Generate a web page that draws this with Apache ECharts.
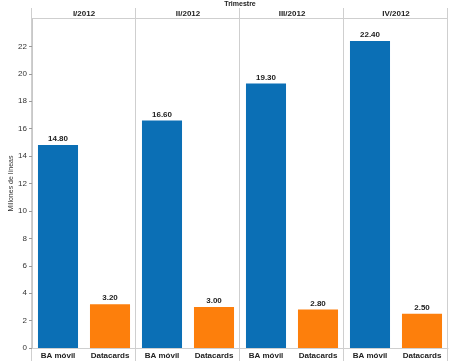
<!DOCTYPE html>
<html><head><meta charset="utf-8">
<script src="https://cdn.jsdelivr.net/npm/echarts@6/dist/echarts.min.js"></script>
<style>html,body{margin:0;padding:0;background:#fff}#c{width:450px;height:361px}</style>
</head><body><div id="c"></div>
<script>
const quarters = ["I/2012", "II/2012", "III/2012", "IV/2012"];
const categories = ["BA móvil", "Datacards"];
const baMovil = [14.8, 16.6, 19.3, 22.4];
const datacards = [3.2, 3.0, 2.8, 2.5];
const yTicks = [0, 2, 4, 6, 8, 10, 12, 14, 16, 18, 20, 22];

const colors = ["#0b6fb5", "#fd7f0c"];
const L = 32, PW = 104, TOP = 19, BOTTOM = 13;
const font = "Liberation Sans, Arial, sans-serif";

const grids = [], xAxes = [], yAxes = [], series = [];
quarters.forEach((q, i) => {
  grids.push({left: L + PW * i, width: PW, top: TOP, bottom: BOTTOM, containLabel: false});
  xAxes.push({type: "category", gridIndex: i, data: categories,
    axisLine: {show: true, lineStyle: {color: "#cfcfcf"}}, axisTick: {show: false},
    axisLabel: {fontSize: 8, fontWeight: "bold", color: "#222", fontFamily: font, margin: 4, interval: 0}});
  yAxes.push({type: "value", gridIndex: i, min: 0, max: 24, interval: 2,
    splitLine: {show: false},
    axisLine: {show: i === 0, lineStyle: {color: "#c8c8c8"}},
    axisTick: {show: i === 0, length: 3, lineStyle: {color: "#999"}},
    axisLabel: {show: i === 0, fontSize: 8, color: "#333", fontFamily: font, margin: 5,
      showMaxLabel: false, formatter: v => yTicks.includes(v) ? String(v) : ""},
    name: i === 0 ? "Millones de líneas" : "", nameLocation: "middle", nameGap: 17,
    nameTextStyle: {fontSize: 7, color: "#333", fontFamily: font}});
  series.push({type: "bar", xAxisIndex: i, yAxisIndex: i, barWidth: "77%",
    data: [{value: baMovil[i], itemStyle: {color: colors[0]}}, {value: datacards[i], itemStyle: {color: colors[1]}}],
    label: {show: true, position: "top", distance: 2, fontSize: 8, fontWeight: "bold", color: "#222", fontFamily: font,
      formatter: p => p.value.toFixed(2)}});
});
const gfx = [];
quarters.forEach((q, i) => {
  gfx.push({type: "text", x: L + PW * i + PW / 2, y: 10, style: {text: q, textAlign: "center",
    font: "bold 8px " + font, fill: "#222"}});
});
gfx.push({type: "text", x: L + PW * 2, y: 1, style: {text: "Trimestre", textAlign: "center",
  font: "bold 7px " + font, fill: "#222"}});
for (let i = 0; i <= quarters.length; i++) {
  gfx.push({type: "line", shape: {x1: L + PW * i - 0.5, y1: 8, x2: L + PW * i - 0.5, y2: 361},
    style: {stroke: "#cfcfcf", lineWidth: 1}});
}
gfx.push({type: "line", shape: {x1: L, y1: TOP - 0.5, x2: L + PW * 4, y2: TOP - 0.5},
  style: {stroke: "#cfcfcf", lineWidth: 1}});

const chart = echarts.init(document.getElementById("c"), null, {renderer: "canvas"});
chart.setOption({
  animation: false,
  grid: grids, xAxis: xAxes, yAxis: yAxes, series: series,
  graphic: gfx
});
</script></body></html>
